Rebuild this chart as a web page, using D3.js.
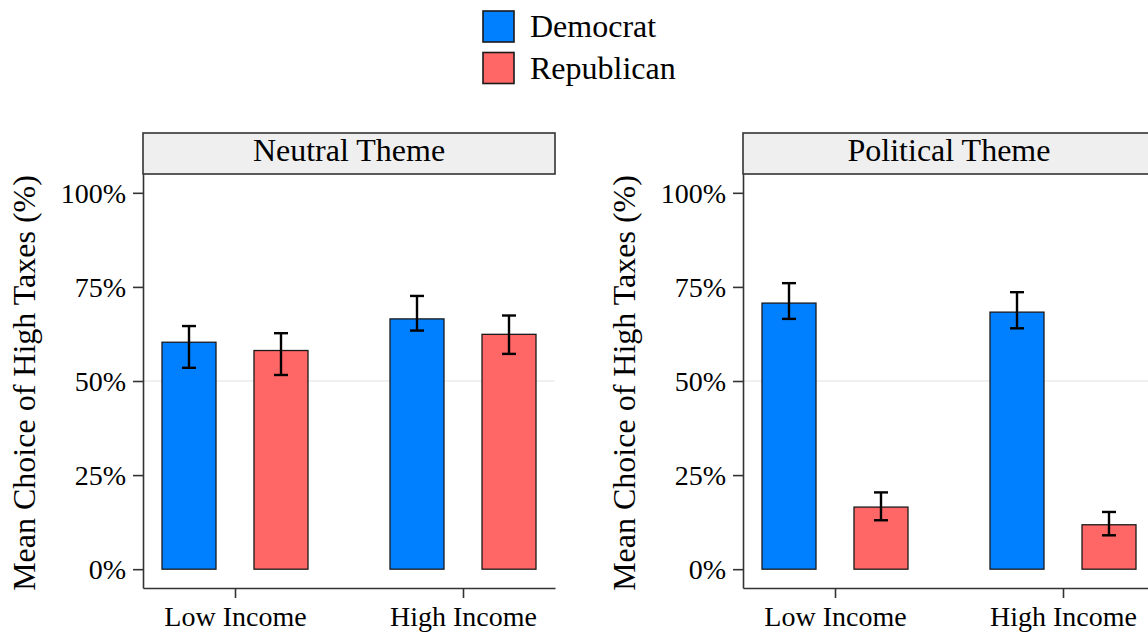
<!DOCTYPE html>
<html>
<head>
<meta charset="utf-8">
<script src="https://cdn.jsdelivr.net/npm/d3@7"></script>
<style>
  html, body { margin: 0; padding: 0; background: #fff; }
  svg { display: block; }
  text { font-family: "Liberation Serif", "Times New Roman", serif; fill: #000; }
</style>
</head>
<body>
<svg id="chart" width="1148" height="632"></svg>
<script>
// Facets, groups and series
const themes = ["Neutral Theme", "Political Theme"];
const incomes = ["Low Income", "High Income"];
const parties = ["Democrat", "Republican"];
const partyColors = ["#0080FF", "#FF6666"];

// Values ordered: Low/Dem, Low/Rep, High/Dem, High/Rep (percent)
const neutralMean  = [60.3, 58.1, 66.5, 62.4];
const neutralLower = [53.5, 51.6, 63.4, 57.2];
const neutralUpper = [64.6, 62.7, 72.6, 67.4];

const politicalMean  = [70.7, 16.5, 68.3, 11.8];
const politicalLower = [66.5, 13.0, 64.0,  9.0];
const politicalUpper = [76.0, 20.4, 73.6, 15.2];

const yTicks = [0, 25, 50, 75, 100];
const yTickLabels = ["0%", "25%", "50%", "75%", "100%"];
const yTitle = "Mean Choice of High Taxes (%)";

const themeData = [
  { mean: neutralMean, lower: neutralLower, upper: neutralUpper },
  { mean: politicalMean, lower: politicalLower, upper: politicalUpper }
];

const svg = d3.select("#chart");
const font = "'Liberation Serif', 'Times New Roman', serif";

// Layout
const panelLeft = [143, 743];
const panelWidth = 412;
const stripTop = 133, stripBottom = 174, axisBottom = 588;

const y = d3.scaleLinear().domain([-5, 105]).range([axisBottom, stripBottom]);
const x0 = d3.scalePoint().domain(incomes).range([0, panelWidth]).padding(0.4035);
const x1 = d3.scaleBand().domain(parties).range([-73, 73]).paddingInner(0.413);
const color = d3.scaleOrdinal().domain(parties).range(partyColors);

themes.forEach((theme, ti) => {
  const g = svg.append("g").attr("transform", `translate(${panelLeft[ti]},0)`);
  const d = themeData[ti];
  const rows = [];
  incomes.forEach((inc, ii) => parties.forEach((p, pi) => {
    const k = ii * 2 + pi;
    rows.push({ income: inc, party: p, mean: d.mean[k], lower: d.lower[k], upper: d.upper[k] });
  }));

  // reference line at 50%
  g.append("line")
    .attr("x1", 0).attr("x2", panelWidth)
    .attr("y1", y(50)).attr("y2", y(50))
    .attr("stroke", "#ebebeb").attr("stroke-width", 1.6);

  // bars
  g.selectAll("rect.bar").data(rows).enter().append("rect")
    .attr("class", "bar")
    .attr("x", r => x0(r.income) + x1(r.party))
    .attr("width", x1.bandwidth())
    .attr("y", r => y(r.mean))
    .attr("height", r => y(0) - y(r.mean))
    .attr("fill", r => color(r.party))
    .attr("stroke", "#1a1a1a").attr("stroke-width", 1.3);

  // error bars
  const cap = 7;
  const eb = g.selectAll("g.err").data(rows).enter().append("g")
    .attr("class", "err")
    .attr("transform", r => `translate(${x0(r.income) + x1(r.party) + x1.bandwidth() / 2},0)`)
    .attr("stroke", "#000").attr("stroke-width", 2.4);
  eb.append("line").attr("x1", 0).attr("x2", 0)
    .attr("y1", r => y(r.lower)).attr("y2", r => y(r.upper));
  eb.append("line").attr("x1", -cap).attr("x2", cap)
    .attr("y1", r => y(r.upper)).attr("y2", r => y(r.upper));
  eb.append("line").attr("x1", -cap).attr("x2", cap)
    .attr("y1", r => y(r.lower)).attr("y2", r => y(r.lower));

  // y axis
  const ya = g.append("g")
    .call(d3.axisLeft(y).tickValues(yTicks)
      .tickFormat((v, i) => yTickLabels[i]).tickSize(10).tickPadding(7).tickSizeOuter(0));
  ya.select(".domain").attr("stroke", "#333").attr("stroke-width", 1.6);
  ya.selectAll(".tick line").attr("stroke", "#333").attr("stroke-width", 1.6);
  ya.selectAll(".tick text").attr("font-family", font).attr("font-size", 28)
    .attr("fill", "#222").attr("dy", "0.33em");

  // x axis
  const xa = g.append("g").attr("transform", `translate(0,${axisBottom})`)
    .call(d3.axisBottom(x0).tickSize(10).tickSizeOuter(0));
  xa.select(".domain").attr("stroke", "#333").attr("stroke-width", 1.6);
  xa.selectAll(".tick line").attr("stroke", "#333").attr("stroke-width", 1.6);
  xa.selectAll(".tick text").attr("font-family", font).attr("font-size", 28)
    .attr("fill", "#000").attr("dy", null).attr("y", 38);

  // strip
  g.append("rect")
    .attr("x", 0).attr("y", stripTop)
    .attr("width", panelWidth).attr("height", stripBottom - stripTop)
    .attr("fill", "#efefef").attr("stroke", "#333").attr("stroke-width", 1.6);
  g.append("text")
    .attr("x", panelWidth / 2).attr("y", 161)
    .attr("text-anchor", "middle").attr("font-size", 32)
    .text(theme);

  // y axis title
  g.append("text")
    .attr("transform", `translate(-108,${(stripBottom + axisBottom) / 2 + 2}) rotate(-90)`)
    .attr("text-anchor", "middle").attr("font-size", 32)
    .text(yTitle);
});

// legend
const legend = svg.append("g").attr("transform", "translate(483,11)");
parties.forEach((p, i) => {
  legend.append("rect")
    .attr("x", 0).attr("y", i * 41.5)
    .attr("width", 31).attr("height", 31)
    .attr("fill", color(p)).attr("stroke", "#1a1a1a").attr("stroke-width", 1.6);
  legend.append("text")
    .attr("x", 47).attr("y", i * 41.5 + 26)
    .attr("font-size", 32)
    .text(p);
});
</script>
</body>
</html>
